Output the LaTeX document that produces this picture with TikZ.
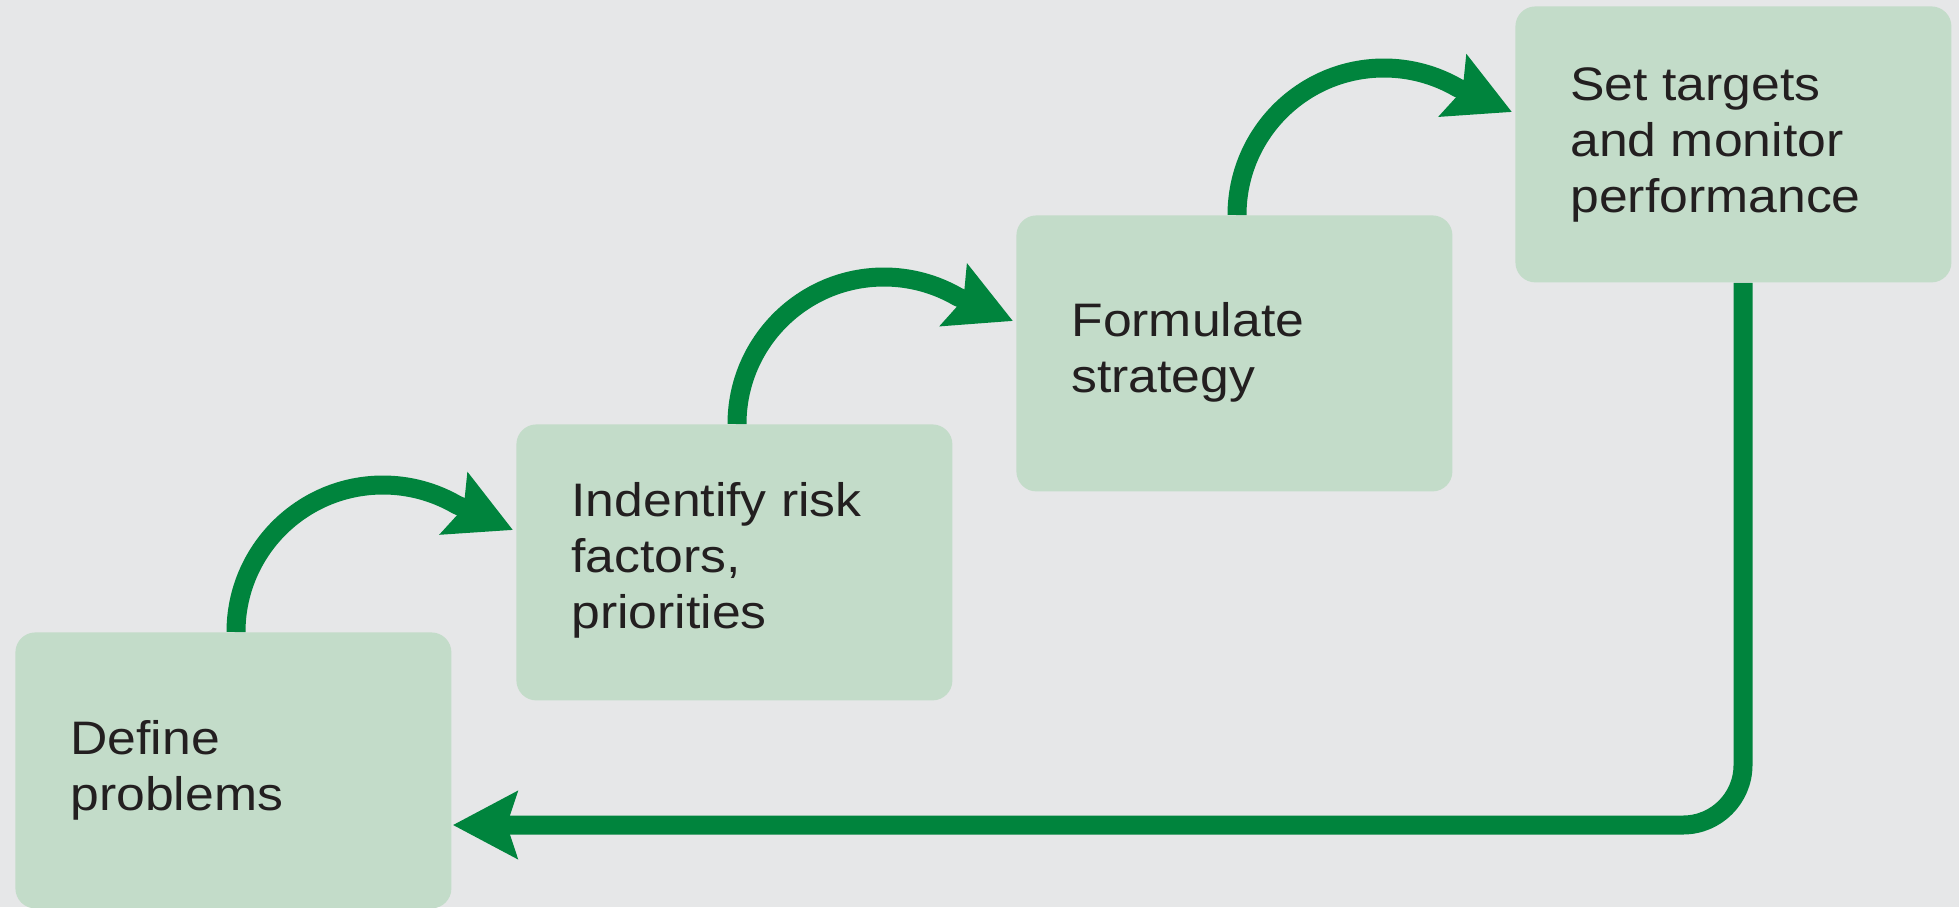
\documentclass[tikz,border=0pt]{standalone}
\usepackage{fontspec}
\setmainfont{Liberation Sans}[FakeStretch=1.1]
\usetikzlibrary{arrows.meta,calc}
\definecolor{bg}{RGB}{230,231,232}
\definecolor{boxfill}{RGB}{195,220,201}
\definecolor{arrowgreen}{RGB}{0,132,61}
\definecolor{txt}{RGB}{35,31,32}
\begin{document}
\begin{tikzpicture}[x=0.5pt,y=0.5pt,
  stepbox/.style={draw=none, fill=boxfill, rounded corners=10pt, minimum width=218pt,
    minimum height=138pt, anchor=north west, inner sep=0pt},
  boxtext/.style={anchor=base west, align=left, inner sep=0pt,
    font=\fontsize{23.5pt}{28pt}\selectfont, text=txt},
  flow/.style={draw=arrowgreen, line width=9.5pt,
    -{Stealth[length=32pt, width=33pt, inset=5pt]}}
]
\fill[bg] (0,0) rectangle (1959,-907);
\useasboundingbox (0,0) rectangle (1959,-907);

\node[stepbox] (b1) at (15,-632) {};
\node[stepbox] (b2) at (516,-424) {};
\node[stepbox] (b3) at (1016,-215) {};
\node[stepbox] (b4) at (1515,-6) {};

\node[boxtext] (t1) at ($(b1.north west)+(55,-178)$) {Define\\problems};
\node[boxtext] (t2) at ($(b2.north west)+(55,-204)$) {Indentify risk\\factors,\\priorities};
\node[boxtext] (t3) at ($(b3.north west)+(55,-177)$) {Formulate\\strategy};
\node[boxtext] (t4) at ($(b4.north west)+(55,-206)$) {Set targets\\and monitor\\performance};

\coordinate (s1) at ($(b1.north west)+(221,0)$);
\coordinate (e1) at ($(b2.north west)+(-3,-106)$);
\coordinate (s2) at ($(b2.north west)+(221,0)$);
\coordinate (e2) at ($(b3.north west)+(-3,-106)$);
\coordinate (s3) at ($(b3.north west)+(221,0)$);
\coordinate (e3) at ($(b4.north west)+(-3,-106)$);
\coordinate (s4) at ($(b4.south west)+(228,0)$);
\coordinate (e4) at ($(b1.north east)+(1,-193)$);

\draw[flow] (s1) arc[start angle=180, end angle=60, radius=147] -- (e1);
\draw[flow] (s2) arc[start angle=180, end angle=60, radius=147] -- (e2);
\draw[flow] (s3) arc[start angle=180, end angle=60, radius=147] -- (e3);
\draw[flow, rounded corners=30pt] (s4) |- (e4);
\end{tikzpicture}
\end{document}
